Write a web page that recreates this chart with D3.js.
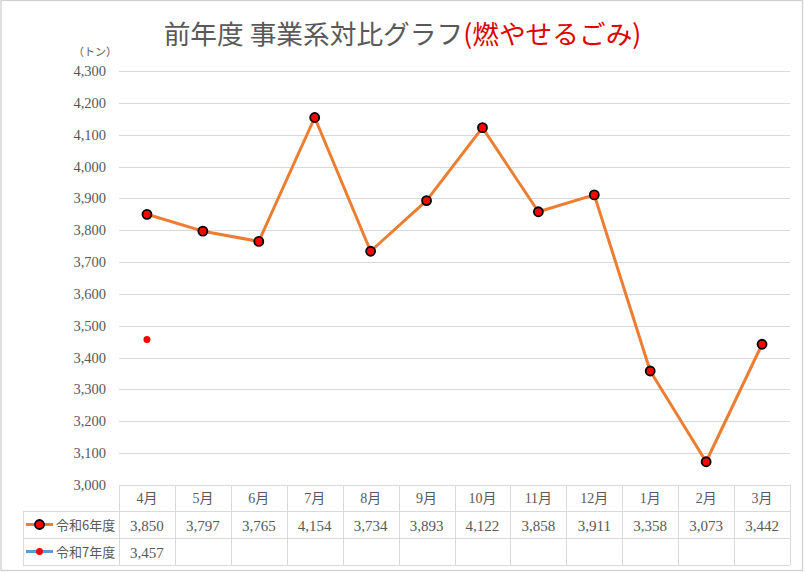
<!DOCTYPE html>
<html><head><meta charset="utf-8">
<script src="https://cdn.jsdelivr.net/npm/d3@7"></script>
<style>body{margin:0;background:#fff}svg{display:block}</style>
</head><body>
<svg id="c" width="805" height="572"></svg>
<script>
const months = ["4月","5月","6月","7月","8月","9月","10月","11月","12月","1月","2月","3月"];
const seriesNames = ["令和6年度","令和7年度"];
const r6 = [3850,3797,3765,4154,3734,3893,4122,3858,3911,3358,3073,3442];
const r7 = [3457];
const yTicks = [3000,3100,3200,3300,3400,3500,3600,3700,3800,3900,4000,4100,4200,4300];

(function(){
const svg = d3.select("#c");
const fontNum = "'Liberation Serif','Noto Sans CJK JP',serif";
const fontJP = "'Noto Sans CJK JP','Liberation Serif',sans-serif";
const grey = "#595959", gridC = "#d9d9d9";

const pL = 119, pR = 790, pT = 71, pB = 485;
const x = d3.scaleBand().domain(months).range([pL, pR]).padding(0);
const y = d3.scaleLinear().domain([3000, 4300]).range([pB, pT]);

svg.append("rect").attr("x",1).attr("y",0.5).attr("width",801.5).attr("height",570)
  .attr("fill","#fff").attr("stroke","#d0d0d0").attr("stroke-width",1.3);

const t = svg.append("text").attr("x",402.5).attr("y",44).attr("text-anchor","middle")
  .attr("font-family",fontJP).attr("font-size",26.7);
t.append("tspan").attr("fill",grey).text("前年度 事業系対比グラフ");
t.append("tspan").attr("fill","#e00000").text("(燃やせるごみ)");

svg.append("text").attr("x",73).attr("y",56).attr("font-family",fontJP).attr("font-size",11)
  .attr("fill",grey).text("（トン）");

svg.append("g").selectAll("line").data(yTicks.filter(d=>d>3000)).join("line")
  .attr("x1",pL).attr("x2",pR).attr("y1",d=>Math.round(y(d))+0.5).attr("y2",d=>Math.round(y(d))+0.5)
  .attr("stroke",gridC).attr("stroke-width",1);

const fmt = d3.format(",");
svg.append("g").selectAll("text").data(yTicks).join("text")
  .attr("x",106).attr("y",d=>y(d)+5).attr("text-anchor","end")
  .attr("font-family",fontNum).attr("font-size",14.5).attr("fill",grey).text(d=>fmt(d));

const rowY = [485, 511, 538, 565];
const tbl = svg.append("g").attr("stroke",gridC).attr("stroke-width",1);
tbl.append("line").attr("x1",pL).attr("x2",pR).attr("y1",rowY[0]+0.5).attr("y2",rowY[0]+0.5);
[1,2,3].forEach(i=>tbl.append("line").attr("x1",23).attr("x2",pR).attr("y1",rowY[i]+0.5).attr("y2",rowY[i]+0.5));
tbl.append("line").attr("x1",23.5).attr("x2",23.5).attr("y1",rowY[1]).attr("y2",rowY[3]);
const bounds = months.map(m=>x(m)).concat([pR]);
tbl.selectAll("line.v").data(bounds).join("line").attr("class","v")
  .attr("x1",d=>Math.round(d)+0.5).attr("x2",d=>Math.round(d)+0.5).attr("y1",rowY[0]).attr("y2",rowY[3]);

const cx = m => x(m) + x.bandwidth()/2;
svg.append("g").selectAll("text").data(months).join("text")
  .attr("x",cx).attr("y",(rowY[0]+rowY[1])/2+5).attr("text-anchor","middle")
  .attr("font-family",fontNum).attr("font-size",14).attr("fill",grey).text(d=>d);
svg.append("g").selectAll("text").data(r6).join("text")
  .attr("x",(d,i)=>cx(months[i])).attr("y",(rowY[1]+rowY[2])/2+6).attr("text-anchor","middle")
  .attr("font-family",fontNum).attr("font-size",15).attr("fill",grey).text(d=>fmt(d));
svg.append("g").selectAll("text").data(r7).join("text")
  .attr("x",(d,i)=>cx(months[i])).attr("y",(rowY[2]+rowY[3])/2+6).attr("text-anchor","middle")
  .attr("font-family",fontNum).attr("font-size",15).attr("fill",grey).text(d=>fmt(d));

const lg = svg.append("g");
[0,1].forEach(i=>{
  const cy = (rowY[i+1]+rowY[i+2])/2;
  lg.append("line").attr("x1",26).attr("x2",53).attr("y1",cy).attr("y2",cy)
    .attr("stroke", i===0 ? "#ed7d31" : "#5b9bd5").attr("stroke-width",3);
  if(i===0) lg.append("circle").attr("cx",39.5).attr("cy",cy).attr("r",4.5).attr("fill","#ff0000").attr("stroke","#000").attr("stroke-width",1.8);
  else lg.append("circle").attr("cx",39.5).attr("cy",cy).attr("r",3.5).attr("fill","#ff0000");
  lg.append("text").attr("x",56).attr("y",cy+5).attr("font-family",fontJP).attr("font-size",13)
    .attr("fill",grey).text(seriesNames[i]);
});

const line = d3.line().x((d,i)=>cx(months[i])).y(d=>y(d));
svg.append("path").datum(r6).attr("d",line).attr("fill","none")
  .attr("stroke","#ed7d31").attr("stroke-width",3).attr("stroke-linejoin","round");
svg.append("g").selectAll("circle").data(r6).join("circle")
  .attr("cx",(d,i)=>cx(months[i])).attr("cy",d=>y(d)).attr("r",4.5)
  .attr("fill","#ff0000").attr("stroke","#000").attr("stroke-width",1.8);
svg.append("path").datum(r7).attr("d",line).attr("fill","none")
  .attr("stroke","#5b9bd5").attr("stroke-width",3);
svg.append("g").selectAll("circle").data(r7).join("circle")
  .attr("cx",(d,i)=>cx(months[i])).attr("cy",d=>y(d)).attr("r",3.5).attr("fill","#ff0000");
})();
</script>
</body></html>
